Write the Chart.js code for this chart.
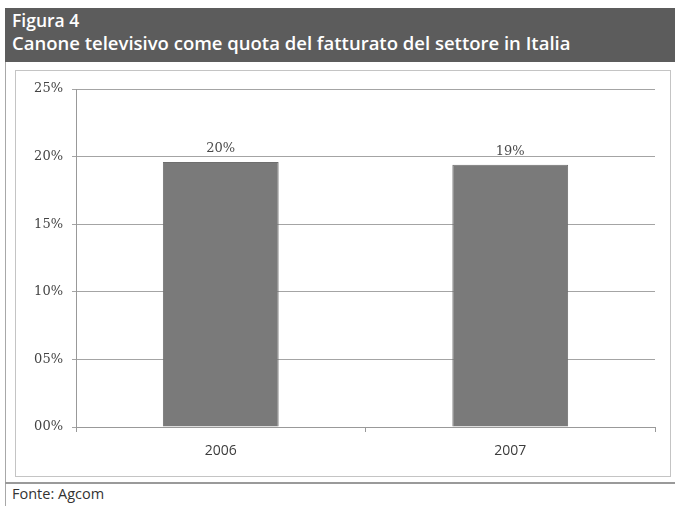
<!DOCTYPE html>
<html>
<head>
<meta charset="utf-8">
<script src="https://cdn.jsdelivr.net/npm/chart.js@4.4.1/dist/chart.umd.min.js"></script>
<style>
  body { margin: 0; background: #fff; width: 675px; height: 506px; position: relative; overflow: hidden; font-family: "Open Sans", sans-serif; }
  #frame { position: absolute; left: 5px; top: 8px; width: 1px; height: 498px; background: #a8a8a8; }
  #head { position: absolute; left: 5px; top: 8px; width: 670px; height: 54px; background: #5c5c5c; color: #fff; }
  #head .num { position: absolute; left: 7px; top: 1px; font-size: 17.5px; font-weight: 600; line-height: 22px; }
  #head .tit { position: absolute; left: 7px; top: 23px; font-size: 18.5px; font-weight: 600; line-height: 24px; white-space: nowrap; }
  #box { position: absolute; left: 15px; top: 70px; width: 656px; height: 407px; box-sizing: border-box; border: 1px solid #c4c4c4; }
  #chart { position: absolute; left: 15px; top: 70px; }
  #rule { position: absolute; left: 5px; top: 482px; width: 670px; height: 2px; background: #9a9a9a; }
  #src { position: absolute; left: 12px; top: 484px; font-size: 14.5px; color: #333; }
</style>
</head>
<body>
<div id="frame"></div>
<div id="head">
  <div class="num">Figura 4</div>
  <div class="tit">Canone televisivo come quota del fatturato del settore in Italia</div>
</div>
<div id="box"></div>
<canvas id="chart" width="655" height="406"></canvas>
<div id="rule"></div>
<div id="src">Fonte: Agcom</div>

<script>
// anni e quota del canone sul fatturato (%)
const years = ["2006", "2007"];
const quota = [19.6, 19.4];

const yMin = 0;
const yMax = 25;
const yStep = 5;

function pct(v) {
  return String(v).padStart(2, "0") + "%";
}

// etichetta del valore sopra ogni barra
const valueLabels = {
  id: "valueLabels",
  afterDatasetsDraw(chart) {
    const ctx = chart.ctx;
    const meta = chart.getDatasetMeta(0);
    ctx.save();
    ctx.font = "13px 'DejaVu Serif'";
    ctx.fillStyle = "#4a4a4a";
    ctx.textAlign = "center";
    ctx.textBaseline = "bottom";
    meta.data.forEach((bar, i) => {
      ctx.fillText(Math.round(quota[i]) + "%", bar.x, bar.y - 7);
    });
    ctx.restore();
  }
};

new Chart(document.getElementById("chart"), {
  type: "bar",
  data: {
    labels: years,
    datasets: [{
      data: quota,
      backgroundColor: "#7a7a7a",
      borderColor: "#6e6e6e",
      borderWidth: 1,
      barPercentage: 0.4,
      categoryPercentage: 1
    }]
  },
  options: {
    responsive: false,
    animation: false,
    layout: { padding: { top: 19, right: 15, left: 0, bottom: 0 } },
    plugins: {
      legend: { display: false },
      tooltip: { enabled: false }
    },
    scales: {
      x: {
        offset: true,
        grid: { offset: true, drawOnChartArea: false, tickLength: 5, color: "#999" },
        border: { color: "#999" },
        ticks: { padding: 11, color: "#3c3c3c", font: { family: "Open Sans", size: 14 } },
        afterFit(scale) { scale.height = 49; }
      },
      y: {
        min: yMin,
        max: yMax,
        ticks: {
          stepSize: yStep,
          padding: 9,
          color: "#444",
          font: { family: "DejaVu Serif", size: 13 },
          callback: v => pct(v)
        },
        grid: { color: "#a4a4a4", tickLength: 4 },
        border: { color: "#999" },
        afterFit(scale) { scale.width = 61; }
      }
    }
  },
  plugins: [valueLabels]
});
</script>
</body>
</html>
